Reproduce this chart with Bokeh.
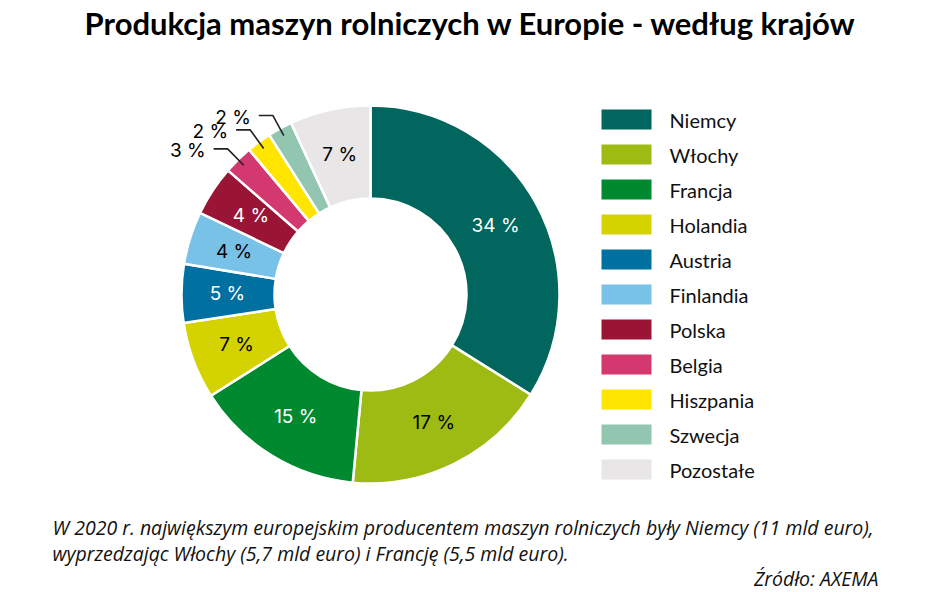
import math
from bokeh.plotting import figure
from bokeh.models import ColumnDataSource, Label
from bokeh.core.properties import value
from bokeh.embed import file_html
from bokeh.resources import INLINE

# ---- data ----
countries = ["Niemcy", "Włochy", "Francja", "Holandia", "Austria", "Finlandia",
             "Polska", "Belgia", "Hiszpania", "Szwecja", "Pozostałe"]
shares = [33.9, 17.6, 14.5, 6.6, 5.0, 4.5, 4.3, 2.5, 2.1, 2.1, 6.9]
labels = ["34 %", "17 %", "15 %", "7 %", "5 %", "4 %", "4 %", "3 %", "2 %", "2 %", "7 %"]
colors = ["#00665E", "#9DBB12", "#00892F", "#D4D300", "#0070A0", "#78C2E8",
          "#991435", "#D3386E", "#FFE500", "#93C6B0", "#E8E6E6"]
label_colors = ["white", "black", "white", "black", "white", "black",
                "white", "black", "black", "black", "black"]
outside = [False, False, False, False, False, False, False, True, True, True, False]

title = "Produkcja maszyn rolniczych w Europie - według krajów"
note1 = "W 2020 r. największym europejskim producentem maszyn rolniczych były Niemcy (11 mld euro),"
note2 = "wyprzedzając Włochy (5,7 mld euro) i Francję (5,5 mld euro)."
source = "Źródło: AXEMA"

W, H = 944, 592
CX, CY = 370, H - 294
R_OUT, R_IN = 189, 96
R_LAB = 143

FONT = "Lato"
LAB_FONT = "Inter"
NOTE_FONT = "Open Sans"

p = figure(width=W, height=H, x_range=(0, W), y_range=(0, H),
           output_backend="svg", toolbar_location=None, min_border=0)
p.axis.visible = False
p.grid.visible = False
p.outline_line_color = None
p.background_fill_color = "white"

total = sum(shares)
starts, ends, mids = [], [], []
cum = 0.0
for s in shares:
    a0 = 90 - 360 * cum / total
    cum += s
    a1 = 90 - 360 * cum / total
    starts.append(math.radians(a1))
    ends.append(math.radians(a0))
    mids.append(math.radians((a0 + a1) / 2))

src = ColumnDataSource(dict(start=starts, end=ends, color=colors, name=countries))
p.annular_wedge(x=CX, y=CY, inner_radius=R_IN, outer_radius=R_OUT,
                start_angle="start", end_angle="end", fill_color="color",
                line_color="white", line_width=2.5, source=src)

ix, iy, it, ic = [], [], [], []
ox, oy, ot = [], [], []
lines = []
for i, m in enumerate(mids):
    if not outside[i]:
        ix.append(CX + R_LAB * math.cos(m))
        iy.append(CY + R_LAB * math.sin(m))
        it.append(labels[i])
        ic.append(label_colors[i])
    else:
        ax, ay = CX + 181 * math.cos(m), CY + 181 * math.sin(m)
        ex, ey = CX + 204 * math.cos(m), CY + 204 * math.sin(m)
        hx = ex - 14
        lines.append(([ax, ex, hx], [ay, ey, ey]))
        ox.append(hx - 8)
        oy.append(ey - 2)
        ot.append(labels[i])

p.text(x=ix, y=iy, text=it, text_color=ic, text_align="center",
       text_baseline="middle", text_font=value(LAB_FONT), text_font_size="19px")
for xs, ys in lines:
    p.line(x=xs, y=ys, line_color="#222222", line_width=1.6)
p.text(x=ox, y=oy, text=ot, text_color="black", text_align="right",
       text_baseline="middle", text_font=value(LAB_FONT), text_font_size="19px")

# legend
leg_y = [H - (119 + 35 * i) for i in range(len(countries))]
p.rect(x=[626] * len(countries), y=leg_y, width=50, height=20,
       fill_color=colors, line_color=None)
p.text(x=[669] * len(countries), y=leg_y, text=countries, text_color="#111111",
       text_align="left", text_baseline="middle", text_font=value(FONT),
       text_font_size="20px")

# title and notes
p.add_layout(Label(x=W / 2 - 2, y=H - 22, text=title, text_align="center",
                   text_baseline="middle", text_font=FONT, text_font_size="31px",
                   text_font_style="bold", text_color="black"))
p.add_layout(Label(x=52, y=H - 527, text=note1, text_align="left",
                   text_baseline="middle", text_font=NOTE_FONT, text_font_size="19.5px",
                   text_font_style="italic", text_color="#111111"))
p.add_layout(Label(x=52, y=H - 553, text=note2, text_align="left",
                   text_baseline="middle", text_font=NOTE_FONT, text_font_size="19.5px",
                   text_font_style="italic", text_color="#111111"))
p.add_layout(Label(x=878, y=H - 578, text=source, text_align="right",
                   text_baseline="middle", text_font=NOTE_FONT, text_font_size="19.5px",
                   text_font_style="italic", text_color="#111111"))

open("out.html", "w").write(file_html(p, INLINE))
